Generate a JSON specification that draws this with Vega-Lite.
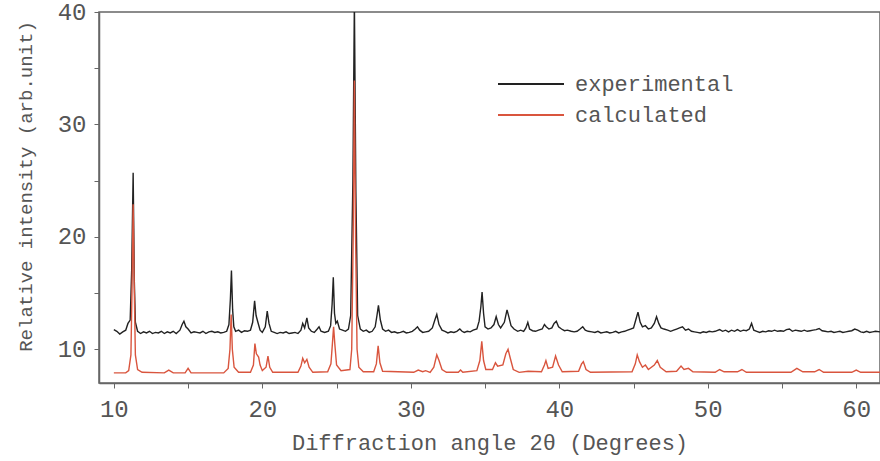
{
  "$schema": "https://vega.github.io/schema/vega-lite/v6.json",
  "width": 781,
  "height": 371,
  "autosize": {"type": "none"},
  "padding": {"left": 99, "top": 12, "right": 0, "bottom": 78},
  "background": "white",
  "config": {
    "view": {"stroke": "#666", "strokeWidth": 1.5},
    "font": "Liberation Mono"
  },
  "datasets": {
    "exp": [
      {"a":10.0,"i":11.75},{"a":10.2,"i":11.6},{"a":10.4,"i":11.35},{"a":10.6,"i":11.55},{"a":10.8,"i":11.7},{"a":10.95,"i":12.3},{"a":11.1,"i":12.6},{"a":11.2,"i":17},{"a":11.3,"i":25.7},{"a":11.38,"i":16},{"a":11.45,"i":12.4},{"a":11.6,"i":11.6},{"a":11.8,"i":11.4},{"a":12.0,"i":11.55},{"a":12.2,"i":11.45},{"a":12.4,"i":11.6},{"a":12.6,"i":11.4},{"a":12.8,"i":11.5},{"a":13.0,"i":11.45},{"a":13.2,"i":11.6},{"a":13.4,"i":11.4},{"a":13.6,"i":11.55},{"a":13.8,"i":11.45},{"a":14.0,"i":11.6},{"a":14.2,"i":11.4},{"a":14.45,"i":11.7},{"a":14.6,"i":12.2},{"a":14.72,"i":12.5},{"a":14.85,"i":12.0},{"a":15.0,"i":11.8},{"a":15.2,"i":11.45},{"a":15.4,"i":11.55},{"a":15.6,"i":11.5},{"a":15.8,"i":11.45},{"a":16.0,"i":11.6},{"a":16.2,"i":11.4},{"a":16.4,"i":11.55},{"a":16.6,"i":11.6},{"a":16.8,"i":11.5},{"a":17.0,"i":11.55},{"a":17.2,"i":11.45},{"a":17.4,"i":11.5},{"a":17.6,"i":11.6},{"a":17.75,"i":12.2},{"a":17.85,"i":14.5},{"a":17.92,"i":17.0},{"a":18.0,"i":13.5},{"a":18.08,"i":12.0},{"a":18.2,"i":11.6},{"a":18.4,"i":11.7},{"a":18.6,"i":11.5},{"a":18.8,"i":11.65},{"a":19.0,"i":11.6},{"a":19.2,"i":11.7},{"a":19.35,"i":12.4},{"a":19.48,"i":14.3},{"a":19.58,"i":13.0},{"a":19.7,"i":12.4},{"a":19.85,"i":11.7},{"a":20.0,"i":11.5},{"a":20.2,"i":12.0},{"a":20.33,"i":13.4},{"a":20.45,"i":12.3},{"a":20.6,"i":11.6},{"a":20.8,"i":11.5},{"a":21.0,"i":11.4},{"a":21.2,"i":11.5},{"a":21.4,"i":11.45},{"a":21.6,"i":11.55},{"a":21.8,"i":11.4},{"a":22.0,"i":11.45},{"a":22.2,"i":11.5},{"a":22.4,"i":11.4},{"a":22.6,"i":11.7},{"a":22.72,"i":12.3},{"a":22.85,"i":11.9},{"a":23.0,"i":12.8},{"a":23.12,"i":11.9},{"a":23.3,"i":11.6},{"a":23.5,"i":11.5},{"a":23.7,"i":11.8},{"a":23.82,"i":12.0},{"a":23.95,"i":11.6},{"a":24.2,"i":11.5},{"a":24.45,"i":11.6},{"a":24.6,"i":12.1},{"a":24.7,"i":14.0},{"a":24.78,"i":16.4},{"a":24.86,"i":13.2},{"a":24.95,"i":12.3},{"a":25.05,"i":12.5},{"a":25.2,"i":11.8},{"a":25.4,"i":11.7},{"a":25.6,"i":11.6},{"a":25.8,"i":11.8},{"a":25.95,"i":13},{"a":26.1,"i":25},{"a":26.2,"i":41},{"a":26.3,"i":24},{"a":26.42,"i":13},{"a":26.6,"i":11.8},{"a":26.8,"i":11.6},{"a":27.0,"i":11.7},{"a":27.2,"i":11.5},{"a":27.4,"i":11.6},{"a":27.6,"i":12.0},{"a":27.72,"i":13.0},{"a":27.82,"i":13.9},{"a":27.95,"i":12.6},{"a":28.1,"i":11.8},{"a":28.3,"i":11.6},{"a":28.5,"i":11.7},{"a":28.7,"i":11.5},{"a":28.9,"i":11.55},{"a":29.1,"i":11.45},{"a":29.3,"i":11.5},{"a":29.5,"i":11.6},{"a":29.7,"i":11.45},{"a":29.9,"i":11.5},{"a":30.1,"i":11.6},{"a":30.3,"i":11.8},{"a":30.45,"i":12.0},{"a":30.6,"i":11.7},{"a":30.8,"i":11.5},{"a":31.0,"i":11.55},{"a":31.2,"i":11.6},{"a":31.45,"i":11.9},{"a":31.62,"i":12.6},{"a":31.75,"i":13.1},{"a":31.9,"i":12.2},{"a":32.1,"i":11.7},{"a":32.3,"i":11.6},{"a":32.5,"i":11.45},{"a":32.7,"i":11.55},{"a":32.9,"i":11.5},{"a":33.1,"i":11.6},{"a":33.3,"i":11.8},{"a":33.45,"i":11.6},{"a":33.6,"i":11.5},{"a":33.8,"i":11.6},{"a":34.0,"i":11.55},{"a":34.2,"i":11.7},{"a":34.45,"i":11.8},{"a":34.6,"i":12.5},{"a":34.72,"i":13.8},{"a":34.8,"i":15.1},{"a":34.9,"i":13.2},{"a":35.0,"i":12.0},{"a":35.2,"i":11.8},{"a":35.4,"i":11.9},{"a":35.6,"i":12.2},{"a":35.75,"i":12.9},{"a":35.9,"i":12.2},{"a":36.05,"i":11.9},{"a":36.3,"i":12.4},{"a":36.48,"i":13.5},{"a":36.6,"i":12.9},{"a":36.75,"i":12.1},{"a":36.95,"i":11.8},{"a":37.2,"i":11.6},{"a":37.4,"i":11.7},{"a":37.6,"i":11.6},{"a":37.75,"i":11.9},{"a":37.88,"i":12.4},{"a":38.0,"i":11.8},{"a":38.2,"i":11.65},{"a":38.4,"i":11.6},{"a":38.6,"i":11.7},{"a":38.85,"i":11.8},{"a":39.0,"i":12.2},{"a":39.12,"i":12.0},{"a":39.3,"i":11.8},{"a":39.5,"i":11.9},{"a":39.65,"i":12.3},{"a":39.8,"i":12.5},{"a":39.95,"i":12.0},{"a":40.15,"i":11.8},{"a":40.35,"i":11.65},{"a":40.55,"i":11.7},{"a":40.8,"i":11.6},{"a":41.0,"i":11.55},{"a":41.2,"i":11.6},{"a":41.4,"i":11.8},{"a":41.58,"i":12.0},{"a":41.75,"i":11.7},{"a":41.95,"i":11.6},{"a":42.2,"i":11.55},{"a":42.4,"i":11.5},{"a":42.6,"i":11.6},{"a":42.8,"i":11.45},{"a":43.0,"i":11.5},{"a":43.2,"i":11.55},{"a":43.4,"i":11.45},{"a":43.6,"i":11.5},{"a":43.8,"i":11.6},{"a":44.0,"i":11.45},{"a":44.2,"i":11.55},{"a":44.4,"i":11.6},{"a":44.6,"i":11.7},{"a":44.8,"i":11.8},{"a":45.0,"i":11.9},{"a":45.15,"i":12.6},{"a":45.3,"i":13.3},{"a":45.45,"i":12.4},{"a":45.6,"i":12.0},{"a":45.8,"i":12.1},{"a":46.0,"i":11.8},{"a":46.2,"i":11.9},{"a":46.4,"i":12.3},{"a":46.55,"i":12.9},{"a":46.7,"i":12.3},{"a":46.85,"i":11.9},{"a":47.05,"i":11.8},{"a":47.3,"i":11.7},{"a":47.5,"i":11.6},{"a":47.7,"i":11.7},{"a":47.9,"i":11.8},{"a":48.1,"i":11.9},{"a":48.3,"i":12.0},{"a":48.5,"i":11.7},{"a":48.7,"i":11.8},{"a":48.9,"i":11.6},{"a":49.1,"i":11.55},{"a":49.3,"i":11.5},{"a":49.5,"i":11.45},{"a":49.7,"i":11.55},{"a":49.9,"i":11.5},{"a":50.1,"i":11.6},{"a":50.3,"i":11.55},{"a":50.5,"i":11.6},{"a":50.8,"i":11.75},{"a":51.0,"i":11.6},{"a":51.2,"i":11.7},{"a":51.4,"i":11.55},{"a":51.6,"i":11.7},{"a":51.8,"i":11.6},{"a":52.0,"i":11.75},{"a":52.2,"i":11.6},{"a":52.4,"i":11.7},{"a":52.6,"i":11.65},{"a":52.8,"i":11.8},{"a":52.95,"i":12.3},{"a":53.1,"i":11.7},{"a":53.3,"i":11.6},{"a":53.5,"i":11.5},{"a":53.7,"i":11.6},{"a":53.9,"i":11.55},{"a":54.1,"i":11.65},{"a":54.3,"i":11.6},{"a":54.5,"i":11.7},{"a":54.7,"i":11.6},{"a":54.9,"i":11.65},{"a":55.1,"i":11.6},{"a":55.3,"i":11.75},{"a":55.5,"i":11.8},{"a":55.7,"i":11.6},{"a":55.9,"i":11.7},{"a":56.1,"i":11.65},{"a":56.3,"i":11.6},{"a":56.5,"i":11.7},{"a":56.7,"i":11.6},{"a":56.9,"i":11.65},{"a":57.1,"i":11.7},{"a":57.3,"i":11.75},{"a":57.5,"i":11.85},{"a":57.7,"i":11.65},{"a":57.9,"i":11.6},{"a":58.1,"i":11.55},{"a":58.3,"i":11.6},{"a":58.5,"i":11.5},{"a":58.7,"i":11.55},{"a":58.9,"i":11.6},{"a":59.1,"i":11.5},{"a":59.3,"i":11.55},{"a":59.5,"i":11.6},{"a":59.7,"i":11.65},{"a":59.9,"i":11.8},{"a":60.1,"i":11.7},{"a":60.3,"i":11.55},{"a":60.5,"i":11.5},{"a":60.7,"i":11.6},{"a":60.9,"i":11.5},{"a":61.1,"i":11.55},{"a":61.3,"i":11.6},{"a":61.6,"i":11.55}
    ],
    "calc": [
      {"a":10.0,"i":7.9},{"a":10.8,"i":7.9},{"a":11.0,"i":8.1},{"a":11.15,"i":9.5},{"a":11.22,"i":15},{"a":11.3,"i":22.9},{"a":11.38,"i":15},{"a":11.45,"i":9.5},{"a":11.6,"i":8.2},{"a":11.9,"i":7.95},{"a":13.4,"i":7.9},{"a":13.7,"i":8.15},{"a":14.0,"i":7.9},{"a":14.8,"i":7.9},{"a":15.0,"i":8.3},{"a":15.2,"i":7.9},{"a":17.4,"i":7.9},{"a":17.7,"i":8.3},{"a":17.82,"i":10},{"a":17.9,"i":13.1},{"a":17.98,"i":10},{"a":18.1,"i":8.4},{"a":18.4,"i":7.95},{"a":19.2,"i":7.95},{"a":19.4,"i":8.6},{"a":19.5,"i":10.5},{"a":19.6,"i":9.6},{"a":19.75,"i":9.3},{"a":19.85,"i":8.6},{"a":20.0,"i":8.1},{"a":20.25,"i":8.4},{"a":20.38,"i":9.4},{"a":20.5,"i":8.4},{"a":20.7,"i":7.95},{"a":22.4,"i":7.95},{"a":22.6,"i":8.5},{"a":22.72,"i":9.2},{"a":22.85,"i":8.8},{"a":23.0,"i":9.1},{"a":23.15,"i":8.4},{"a":23.4,"i":7.95},{"a":24.4,"i":8.0},{"a":24.62,"i":8.7},{"a":24.72,"i":10.5},{"a":24.8,"i":12.0},{"a":24.88,"i":10.5},{"a":25.0,"i":8.6},{"a":25.3,"i":8.1},{"a":25.9,"i":8.2},{"a":26.02,"i":10},{"a":26.12,"i":20},{"a":26.2,"i":33.9},{"a":26.28,"i":20},{"a":26.38,"i":10},{"a":26.5,"i":8.4},{"a":26.8,"i":8.0},{"a":27.5,"i":8.0},{"a":27.68,"i":8.7},{"a":27.8,"i":10.3},{"a":27.92,"i":8.8},{"a":28.1,"i":8.05},{"a":30.2,"i":7.95},{"a":30.5,"i":8.15},{"a":30.8,"i":8.0},{"a":31.0,"i":8.1},{"a":31.3,"i":7.95},{"a":31.55,"i":8.4},{"a":31.75,"i":9.5},{"a":31.9,"i":9.0},{"a":32.1,"i":8.2},{"a":32.4,"i":7.95},{"a":33.2,"i":7.95},{"a":33.35,"i":8.15},{"a":33.5,"i":7.95},{"a":34.45,"i":8.1},{"a":34.65,"i":9.0},{"a":34.78,"i":10.7},{"a":34.9,"i":9.0},{"a":35.05,"i":8.2},{"a":35.5,"i":8.2},{"a":35.7,"i":8.8},{"a":35.85,"i":8.5},{"a":36.2,"i":8.6},{"a":36.4,"i":9.6},{"a":36.55,"i":10.0},{"a":36.7,"i":9.2},{"a":36.9,"i":8.2},{"a":37.3,"i":7.95},{"a":37.9,"i":8.05},{"a":38.8,"i":8.0},{"a":39.0,"i":8.6},{"a":39.1,"i":9.0},{"a":39.25,"i":8.3},{"a":39.55,"i":8.4},{"a":39.75,"i":9.4},{"a":39.95,"i":8.6},{"a":40.2,"i":8.0},{"a":41.3,"i":8.05},{"a":41.5,"i":8.7},{"a":41.62,"i":8.9},{"a":41.8,"i":8.2},{"a":42.1,"i":7.95},{"a":44.9,"i":8.0},{"a":45.12,"i":8.7},{"a":45.25,"i":9.5},{"a":45.4,"i":8.9},{"a":45.6,"i":8.4},{"a":45.8,"i":8.6},{"a":46.0,"i":8.2},{"a":46.4,"i":8.6},{"a":46.6,"i":9.0},{"a":46.8,"i":8.4},{"a":47.2,"i":8.0},{"a":47.9,"i":8.05},{"a":48.2,"i":8.5},{"a":48.4,"i":8.2},{"a":48.7,"i":8.3},{"a":49.0,"i":8.0},{"a":50.5,"i":7.95},{"a":50.8,"i":8.2},{"a":51.1,"i":8.0},{"a":52.0,"i":8.0},{"a":52.3,"i":8.2},{"a":52.6,"i":7.95},{"a":55.6,"i":7.95},{"a":56.0,"i":8.3},{"a":56.4,"i":8.0},{"a":57.2,"i":8.0},{"a":57.5,"i":8.2},{"a":57.8,"i":7.95},{"a":59.7,"i":7.95},{"a":60.0,"i":8.15},{"a":60.3,"i":7.95},{"a":61.6,"i":7.95}
    ]
  },
  "encoding": {
    "x": {
      "field": "a", "type": "quantitative",
      "scale": {"domain": [9, 61.6], "nice": false, "zero": false},
      "axis": {
        "values": [10,15,20,25,30,35,40,45,50,55,60],
        "labelExpr": "datum.value % 10 === 0 ? datum.label : ''",
        "grid": false, "tickSize": 5, "tickColor": "#666", "domainColor": "#666", "domainWidth": 1.5,
        "labelFont": "Liberation Mono", "labelFontSize": 24, "labelColor": "#555", "labelPadding": 9,
        "title": "Diffraction angle 2θ (Degrees)", "titleFont": "Liberation Mono", "titleFontSize": 22,
        "titleFontWeight": "normal", "titleColor": "#555", "titlePadding": 11
      }
    },
    "y": {
      "field": "i", "type": "quantitative",
      "scale": {"domain": [7, 40], "nice": false, "zero": false},
      "axis": {
        "values": [10,15,20,25,30,35,40],
        "labelExpr": "datum.value % 10 === 0 ? datum.label : ''",
        "grid": false, "tickSize": 5, "tickColor": "#666", "domainColor": "#666", "domainWidth": 1.5,
        "labelFont": "Liberation Mono", "labelFontSize": 24, "labelColor": "#555", "labelPadding": 8,
        "title": "Relative intensity (arb.unit)", "titleFont": "Liberation Mono", "titleFontSize": 19,
        "titleFontWeight": "normal", "titleColor": "#555", "titleX": -64, "titleY": 174
      }
    }
  },
  "layer": [
    {
      "data": {"name": "exp"},
      "mark": {"type": "line", "clip": true, "strokeWidth": 1.4},
      "encoding": {
        "color": {
          "datum": "experimental",
          "scale": {"domain": ["experimental", "calculated"], "range": ["#222222", "#d9553e"]},
          "legend": {
            "orient": "none", "legendX": 420, "legendY": 60, "title": null,
            "symbolType": "M-3,0H3", "symbolSize": 484, "symbolStrokeWidth": 2,
            "labelFont": "Liberation Mono", "labelFontSize": 22, "labelColor": "#555",
            "labelOffset": 32, "rowPadding": 8
          }
        }
      }
    },
    {
      "data": {"name": "calc"},
      "mark": {"type": "line", "clip": true, "strokeWidth": 1.4},
      "encoding": {"color": {"datum": "calculated"}}
    }
  ]
}
